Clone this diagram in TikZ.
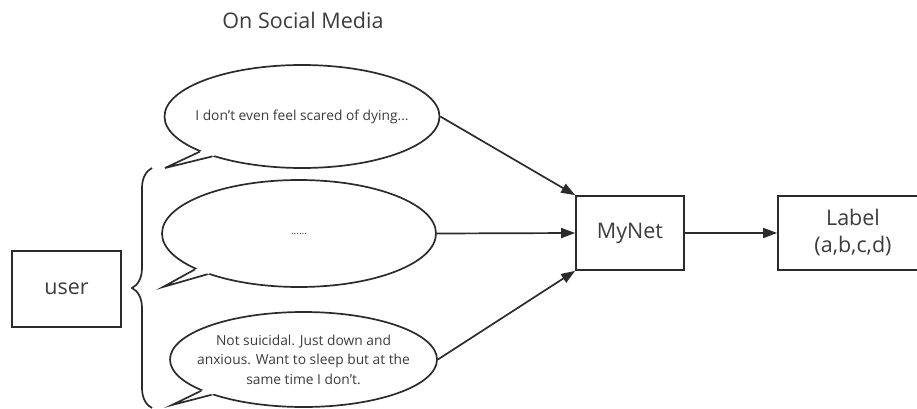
\documentclass[tikz,border=0pt]{standalone}
\usepackage{fontspec}
\setmainfont{Open Sans}
\usetikzlibrary{shapes.geometric,arrows.meta,decorations.pathreplacing,calc}
\definecolor{ink}{HTML}{2B2B2B}
\definecolor{txt}{HTML}{3C3C3C}
\begin{document}
\begin{tikzpicture}[x=1pt,y=-1pt,
  stroke/.style={draw=ink,line width=1.7pt},
  box/.style={stroke,rectangle,fill=white,inner sep=0pt,font=\fontsize{21.5}{27}\selectfont,text=txt,align=center},
  bubble/.style={stroke,ellipse,fill=white,inner xsep=-20pt,inner ysep=-10pt,font=\fontsize{13.8}{19.5}\selectfont,text=txt,align=center},
  tail/.style={stroke,line join=miter},
  flow/.style={draw=ink,line width=1.7pt,-{Triangle[length=14pt,width=10pt]}},
]
\useasboundingbox (0,0) rectangle (917,409);

\node[font=\fontsize{21.5}{24}\selectfont,text=txt] (title) at (303,20) {On Social Media};

\node[box,minimum width=109pt,minimum height=76pt] (user) at (66.5,289) {user};

\coordinate (bt) at (152,168);
\coordinate (bb) at (152,408);
\draw[stroke,decorate,decoration={brace,amplitude=20pt}] (bb) -- (bt);

% bubbles
\node[bubble,minimum width=275pt,minimum height=103pt] (b1) at (302,116.5) {I don't even feel scared of dying...};
\node[bubble,minimum width=274pt,minimum height=107pt] (b2) at (299,233.5) {\fontsize{10}{10}\selectfont ......};
\node[bubble,minimum width=267pt,minimum height=95pt] (b3) at (303.5,359.5) {Not suicidal. Just down and\\anxious. Want to sleep but at the\\same time I don't.};

\coordinate (t1) at (165,168);
\coordinate (t2) at (163,287);
\coordinate (t3) at (172,405);

\fill[white] ($(b1.center)!0.9!(b1.199.6)$) -- (b1.199.6) -- (t1) -- (b1.204.5) -- ($(b1.center)!0.9!(b1.204.5)$) -- cycle;
\draw[tail] (b1.199.6) -- (t1) -- (b1.204.5);
\fill[white] ($(b2.center)!0.9!(b2.199.3)$) -- (b2.199.3) -- (t2) -- (b2.204.5) -- ($(b2.center)!0.9!(b2.204.5)$) -- cycle;
\draw[tail] (b2.199.3) -- (t2) -- (b2.204.5);
\fill[white] ($(b3.center)!0.9!(b3.197.4)$) -- (b3.197.4) -- (t3) -- (b3.201.2) -- ($(b3.center)!0.9!(b3.201.2)$) -- cycle;
\draw[tail] (b3.197.4) -- (t3) -- (b3.201.2);

\node[box,minimum width=108pt,minimum height=74pt] (mynet) at (630,233) {MyNet};
\begin{scope}
\clip (0,0) rectangle (917,409);
\node[box,minimum width=150pt,minimum height=74pt] (label) at (853,233) {Label\\(a,b,c,d)};
\end{scope}

\draw[flow] (b1.east) -- (mynet.north west);
\draw[flow] (b2.east) -- (mynet.west);
\draw[flow] (b3.east) -- (mynet.south west);
\draw[flow] (mynet.east) -- (label.west);
\end{tikzpicture}
\end{document}
